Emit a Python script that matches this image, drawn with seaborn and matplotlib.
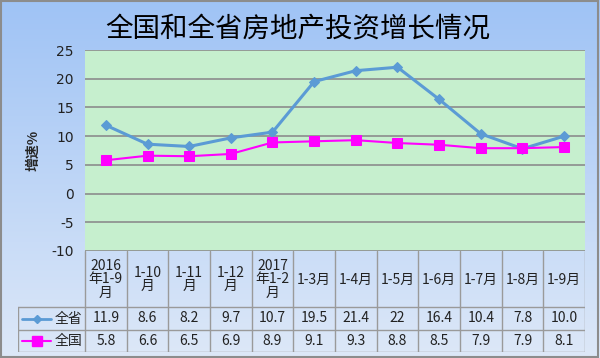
import numpy as np
import pandas as pd
import matplotlib
matplotlib.use("Agg")
import matplotlib.pyplot as plt
import seaborn as sns
from matplotlib.colors import LinearSegmentedColormap

# data
periods = ["2016\n年1-9\n月", "1-10\n月", "1-11\n月", "1-12\n月", "2017\n年1-2\n月",
           "1-3月", "1-4月", "1-5月", "1-6月", "1-7月", "1-8月", "1-9月"]
province = [11.9, 8.6, 8.2, 9.7, 10.7, 19.5, 21.4, 22, 16.4, 10.4, 7.8, 10.0]
province_txt = ["11.9", "8.6", "8.2", "9.7", "10.7", "19.5", "21.4", "22", "16.4", "10.4", "7.8", "10.0"]
national = [5.8, 6.6, 6.5, 6.9, 8.9, 9.1, 9.3, 8.8, 8.5, 7.9, 7.9, 8.1]
national_txt = ["5.8", "6.6", "6.5", "6.9", "8.9", "9.1", "9.3", "8.8", "8.5", "7.9", "7.9", "8.1"]
yticks = [-10, -5, 0, 5, 10, 15, 20, 25]

df = pd.DataFrame({"x": range(len(periods)), "全省": province, "全国": national})

sns.set_style("white")
plt.rcParams["font.family"] = ["Noto Sans CJK SC", "DejaVu Sans"]

W, H = 600, 358
fig = plt.figure(figsize=(W / 100, H / 100), dpi=100)

# gradient background
bg = fig.add_axes([0, 0, 1, 1], zorder=-10)
cmap = LinearSegmentedColormap.from_list("bg", ["#dde8f8", "#9fc3f5"])
bg.imshow(np.linspace(0, 1, 256).reshape(-1, 1), aspect="auto", cmap=cmap,
          origin="lower", extent=[0, 1, 0, 1])
bg.add_patch(plt.Rectangle((0.002, 0.003), 0.995, 0.993, fill=False,
                           edgecolor="#8c8c8c", lw=1.5))
bg.set_xlim(0, 1)
bg.set_ylim(0, 1)
bg.axis("off")


def fx(px):
    return px / W


def fy(py):
    return 1 - py / H


# main chart
ax = fig.add_axes([fx(85), fy(251), fx(585) - fx(85), fy(50) - fy(251)])
ax.set_facecolor("#c6efce")
sns.lineplot(data=df, x="x", y="全省", ax=ax, color="#5b9bd5", lw=2.2,
             marker="D", markersize=5.5, markeredgecolor="#5b9bd5")
sns.lineplot(data=df, x="x", y="全国", ax=ax, color="#ff00ff", lw=1.5,
             marker="s", markersize=7, markeredgecolor="#ff00ff")
ax.set_xlim(-0.5, len(periods) - 0.5)
ax.set_ylim(-10, 25)
ax.set_yticks(yticks)
ax.set_yticklabels([str(t) for t in yticks], family="DejaVu Sans", fontsize=10, color="#222222")
ax.set_xticks([])
ax.set_xlabel("")
ax.set_ylabel("增速%", fontsize=10, fontweight="bold", labelpad=8)
ax.tick_params(axis="y", length=0, pad=8)
for t in yticks:
    ax.axhline(t, color="#8c8c8c", lw=1.2, zorder=0.5)
for s in ax.spines.values():
    s.set_visible(False)

fig.text(0.497, fy(29), "全国和全省房地产投资增长情况", ha="center", va="center",
         fontsize=19.8, color="#000000")

# data table
n = len(periods)
leg_w = (85 - 18) / (500 / n)
tb = fig.add_axes([fx(18), fy(352), fx(585) - fx(18), fy(251) - fy(352)])
tb.set_xlim(-0.5 - leg_w, n - 0.5)
tb.set_ylim(352, 251)
tb.axis("off")
gc = "#9a9a9a"
x0 = -0.5 - leg_w
for b in np.arange(-0.5, n, 1.0):
    tb.plot([b, b], [251, 352], color=gc, lw=1)
tb.plot([x0, x0], [307, 352], color=gc, lw=1)
for yy in [307, 330, 352]:
    tb.plot([x0, n - 0.5], [yy, yy], color=gc, lw=1)

for i, lab in enumerate(periods):
    tb.text(i, 279.5, lab, ha="center", va="center", fontsize=10, linespacing=0.92,
            color="#222222")
for i in range(n):
    tb.text(i, 318.5, province_txt[i], ha="center", va="center", fontsize=10,
            color="#222222")
    tb.text(i, 341, national_txt[i], ha="center", va="center", fontsize=10,
            color="#222222")

ppu = 500 / n
lx = [x0 + 4 / ppu, x0 + 33 / ppu]
tb.plot(lx, [318.5, 318.5], color="#5b9bd5", lw=2)
tb.plot([np.mean(lx)], [318.5], marker="D", color="#5b9bd5", markersize=4.5)
tb.plot(lx, [341, 341], color="#ff00ff", lw=1.5)
tb.plot([np.mean(lx)], [341], marker="s", color="#ff00ff", markersize=6.5)
tb.text(x0 + 37 / ppu, 318.5, "全省", ha="left", va="center", fontsize=10, color="#222222")
tb.text(x0 + 37 / ppu, 341, "全国", ha="left", va="center", fontsize=10, color="#222222")

fig.savefig("out.png", dpi=100)
